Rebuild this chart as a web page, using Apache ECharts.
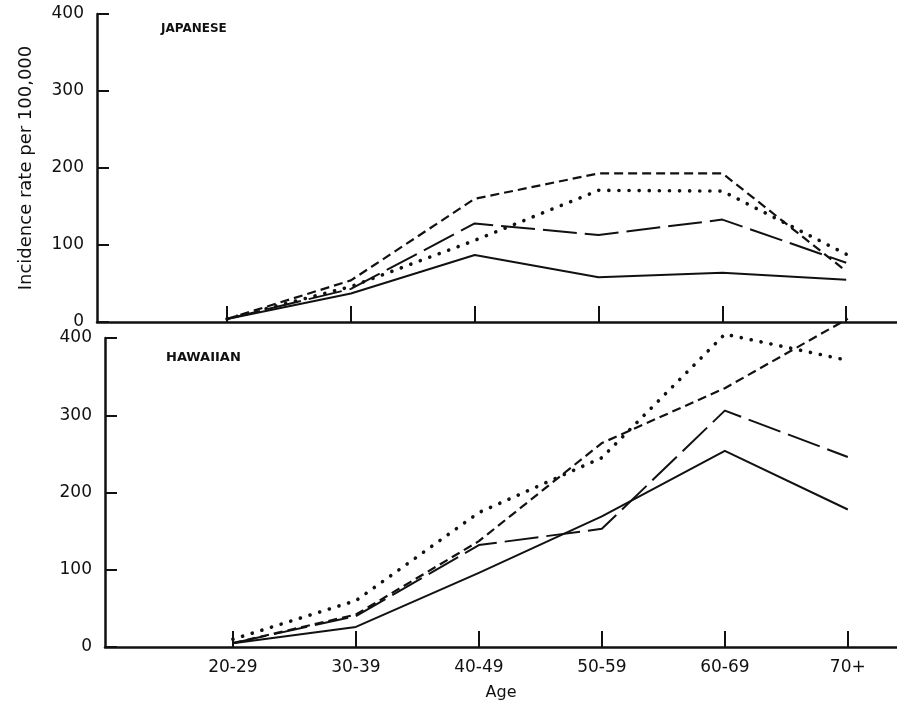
<!DOCTYPE html>
<html>
<head>
<meta charset="utf-8">
<script src="https://cdn.jsdelivr.net/npm/echarts@6/dist/echarts.min.js"></script>
<style>
  html, body { margin: 0; padding: 0; background: #fff; }
  #chart { width: 897px; height: 702px; }
</style>
</head>
<body>
<div id="chart"></div>
<script>
// age groups on the x axis (index 0..5)
var ageLabels = ['20-29', '30-39', '40-49', '50-59', '60-69', '70+'];
var ageTicks = [0, 1, 2, 3, 4, 5];

// Japanese panel
var japSolid = [4, 37, 87, 58, 64, 55];
var japLongDash = [4, 43, 128, 113, 133, 77];
var japShortDash = [4, 54, 160, 193, 193, 66];
var japDotted = [4, 46, 106, 171, 170, 88];

// Hawaiian panel
var hawSolid = [5, 26, 96, 169, 254, 178];
var hawLongDash = [5, 40, 132, 153, 306, 246];
var hawShortDash = [5, 42, 137, 264, 335, 425];
var hawDotted = [10, 60, 174, 245, 405, 371];

(function () {
    var font = 'DejaVu Sans';
    var ink = '#111';

    function pairs(values) {
        var out = [];
        for (var i = 0; i < values.length; i++) {
            out.push([ageTicks[i], values[i]]);
        }
        return out;
    }

    var styles = {
        solid: { type: 'solid', width: 2, cap: 'butt' },
        longDash: { type: [34, 8], width: 2, cap: 'butt' },
        shortDash: { type: [9, 5], width: 2.2, cap: 'butt' },
        dotted: { type: [0.1, 10], width: 3.6, cap: 'round' }
    };

    function line(name, values, style, idx) {
        return {
            name: name,
            type: 'line',
            xAxisIndex: idx,
            yAxisIndex: idx,
            data: pairs(values),
            showSymbol: false,
            clip: false,
            silent: true,
            lineStyle: {
                color: ink,
                type: style.type,
                width: style.width,
                cap: style.cap,
                join: 'round'
            }
        };
    }

    function yAxisFor(idx) {
        return {
            type: 'value',
            gridIndex: idx,
            min: 0,
            max: 400,
            interval: 100,
            splitLine: { show: false },
            axisLine: { show: true, onZero: false, lineStyle: { color: ink, width: 2.5 } },
            axisTick: { show: true, inside: true, length: 12, lineStyle: { color: ink, width: 2 } },
            axisLabel: { color: ink, fontSize: 17, fontFamily: font, margin: 13 }
        };
    }

    function xAxisFor(idx, min, max, showLabels) {
        return {
            type: 'value',
            gridIndex: idx,
            min: min,
            max: max,
            splitLine: { show: false },
            axisLine: { show: true, onZero: false, lineStyle: { color: ink, width: 2.5 } },
            axisTick: {
                show: true,
                inside: true,
                length: 16,
                customValues: ageTicks,
                lineStyle: { color: ink, width: 2 }
            },
            axisLabel: {
                show: showLabels,
                customValues: ageTicks,
                color: ink,
                fontSize: 17,
                fontFamily: font,
                margin: 12,
                formatter: function (v) {
                    return ageLabels[Math.round(v)] || '';
                }
            }
        };
    }

    var myChart = echarts.init(document.getElementById('chart'));

    var topY = yAxisFor(0);
    topY.name = 'Incidence rate per 100,000';
    topY.nameLocation = 'middle';
    topY.nameGap = 62;
    topY.nameTextStyle = { color: ink, fontSize: 18, fontFamily: font };

    var bottomX = xAxisFor(1, -1.04, 5.4, true);
    bottomX.name = 'Age';
    bottomX.nameLocation = 'middle';
    bottomX.nameGap = 38;
    bottomX.nameTextStyle = { color: ink, fontSize: 16, fontFamily: font };

    var option = {
        backgroundColor: '#fff',
        animation: false,
        title: [
            {
                text: 'JAPANESE',
                left: 156,
                top: 18,
                textStyle: { color: ink, fontSize: 12, fontWeight: 'bold', fontFamily: font }
            },
            {
                text: 'HAWAIIAN',
                left: 161,
                top: 346,
                textStyle: { color: ink, fontSize: 13, fontWeight: 'bold', fontFamily: font }
            }
        ],
        grid: [
            { left: 97, top: 14, width: 800, height: 308 },
            { left: 105, top: 338, width: 792, height: 309 }
        ],
        xAxis: [
            xAxisFor(0, -1.05, 5.41, false),
            bottomX
        ],
        yAxis: [
            topY,
            yAxisFor(1)
        ],
        series: [
            line('Japanese solid', japSolid, styles.solid, 0),
            line('Japanese long dash', japLongDash, styles.longDash, 0),
            line('Japanese short dash', japShortDash, styles.shortDash, 0),
            line('Japanese dotted', japDotted, styles.dotted, 0),
            line('Hawaiian solid', hawSolid, styles.solid, 1),
            line('Hawaiian long dash', hawLongDash, styles.longDash, 1),
            line('Hawaiian short dash', hawShortDash, styles.shortDash, 1),
            line('Hawaiian dotted', hawDotted, styles.dotted, 1)
        ]
    };

    myChart.setOption(option);
    window.addEventListener('resize', function () {
        myChart.resize();
    });
})();
</script>
</body>
</html>
